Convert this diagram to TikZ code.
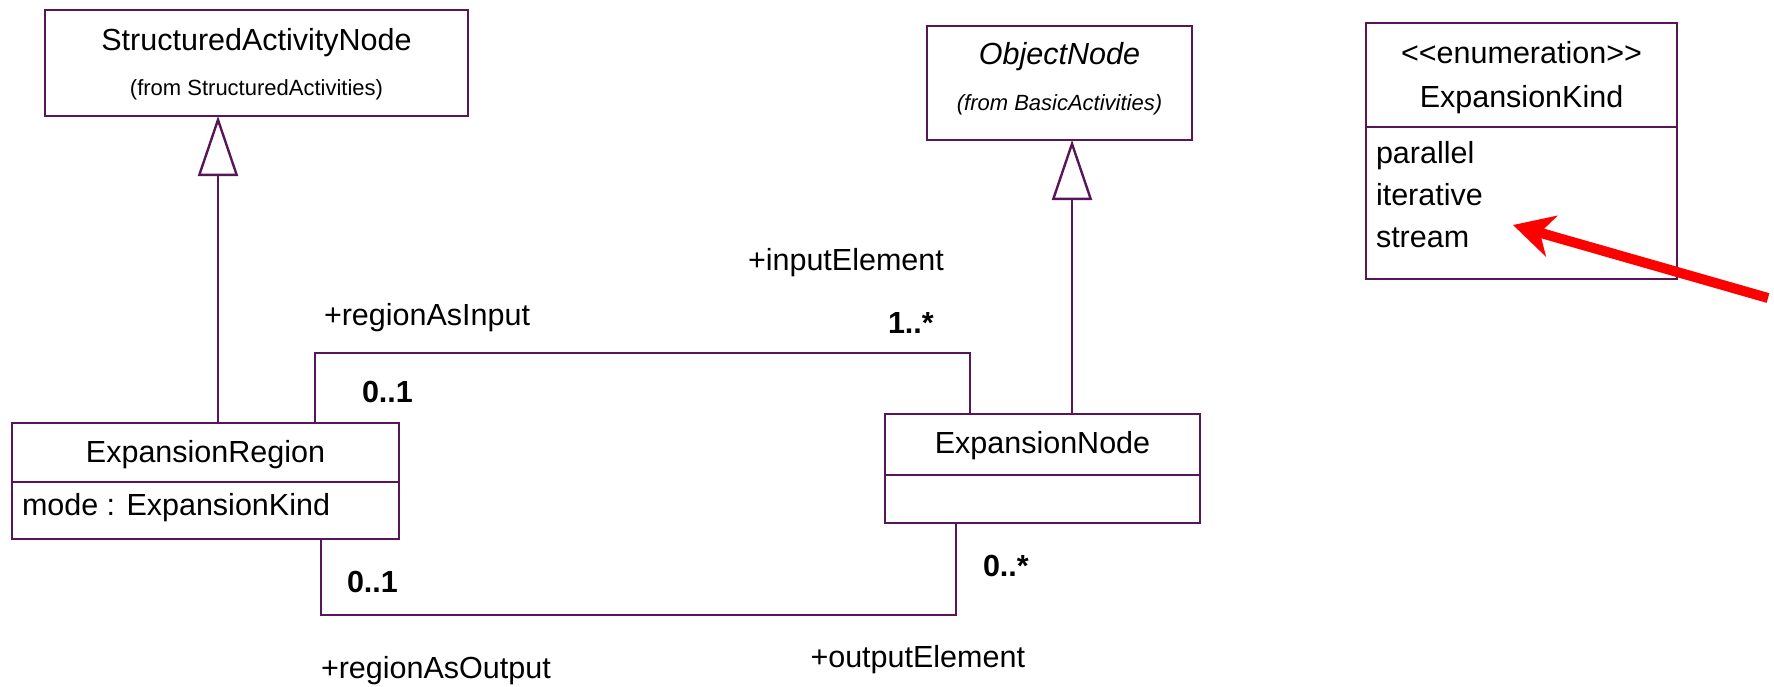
\documentclass[tikz,border=0pt]{standalone}
\usepackage{fontspec}
\setmainfont{Liberation Sans}
\usetikzlibrary{arrows.meta}
\definecolor{umlline}{RGB}{88,22,88}
\definecolor{marker}{RGB}{255,0,0}
\tikzset{
  box/.style={draw=umlline, line width=2.4pt, rectangle, inner sep=0pt, outer sep=0pt},
  ln/.style={draw=umlline, line width=2.4pt},
  gen/.style={ln, -{Triangle[open, length=60pt 0 0, width=40pt 0 0, fill=white]}},
  txt/.style={inner sep=0pt, outer sep=0pt, font=\fontsize{30.5}{36}\selectfont},
  mult/.style={txt, font=\fontsize{30.5}{36}\selectfont\bfseries},
  subtxt/.style={inner sep=0pt, outer sep=0pt, font=\fontsize{22}{26}\selectfont},
  pointer/.style={draw=marker, line width=10pt, -{Stealth[length=40pt 0 0, width=42pt 0 0, inset=12pt, fill=marker]}}
}
\begin{document}
\begin{tikzpicture}[x=1pt, y=-1pt]
\useasboundingbox (0,0) rectangle (1774,686);

% class boxes
\node[box, minimum width=423pt, minimum height=106pt] (san) at (256.5,63) {};
\node[box, minimum width=265pt, minimum height=114pt] (on) at (1059.5,83) {};
\node[box, minimum width=311pt, minimum height=256pt] (ek) at (1521.5,151) {};
\node[box, minimum width=387pt, minimum height=116pt] (er) at (205.5,481) {};
\node[box, minimum width=315pt, minimum height=109pt] (en) at (1042.5,468.5) {};

% compartment dividers
\draw[ln] ([yshift=-104pt]ek.north west) -- ([yshift=-104pt]ek.north east);
\draw[ln] ([yshift=-59pt]er.north west) -- ([yshift=-59pt]er.north east);
\draw[ln] ([yshift=-61pt]en.north west) -- ([yshift=-61pt]en.north east);

% class names and compartments
\node[txt, anchor=base] (sanName) at (256.5,50) {StructuredActivityNode};
\node[subtxt, anchor=base] (sanPkg) at (256.5,95) {(from StructuredActivities)};
\node[txt, anchor=base, font=\fontsize{30.5}{36}\selectfont\itshape] (onName) at (1059.5,64) {ObjectNode};
\node[subtxt, anchor=base, font=\fontsize{22}{26}\selectfont\itshape] (onPkg) at (1059.5,110) {(from BasicActivities)};
\node[txt, anchor=base] (ekStereo) at (1521.5,63) {<{}<enumeration>{}>};
\node[txt, anchor=base] (ekName) at (1521.5,107) {ExpansionKind};
\node[txt, anchor=base west] (ekParallel) at (1376,163) {parallel};
\node[txt, anchor=base west] (ekIterative) at (1376,205) {iterative};
\node[txt, anchor=base west] (ekStream) at (1376,247) {stream};
\node[txt, anchor=base] (erName) at (205.5,462) {ExpansionRegion};
\node[txt, anchor=base west] (erMode) at (22,515) {mode : ExpansionKind};
\node[txt, anchor=base] (enName) at (1042.5,453) {ExpansionNode};

% generalizations
\coordinate (g1) at (218,0);
\coordinate (g2) at (1072,0);
\draw[gen] (er.north -| g1) -- (san.south -| g1);
\draw[gen] (en.north -| g2) -- (on.south -| g2);

% association: regionAsInput / inputElement
\coordinate (ia) at (315,353);
\coordinate (ib) at (970,353);
\draw[ln] (er.north -| ia) -- (ia) -- (ib) -- (en.north -| ib);

% association: regionAsOutput / outputElement
\coordinate (oa) at (321,615);
\coordinate (ob) at (956,615);
\draw[ln] (er.south -| oa) -- (oa) -- (ob) -- (en.south -| ob);

% role names and multiplicities
\node[txt, anchor=base west] (rIn) at (324,325) {+regionAsInput};
\node[mult, anchor=base west] (mIn1) at (362,402) {0..1};
\node[txt, anchor=base west] (rInEl) at (748,270) {+inputElement};
\node[mult, anchor=base west] (mIn2) at (888,333) {1..*};
\node[mult, anchor=base west] (mOut1) at (347,592) {0..1};
\node[txt, anchor=base west] (rOut) at (321,678) {+regionAsOutput};
\node[mult, anchor=base west] (mOut2) at (983,576) {0..*};
\node[txt, anchor=base east] (rOutEl) at (1025,667) {+outputElement};

% highlight arrow
\coordinate (ptail) at (1768,298);
\coordinate (ptip) at (1513,225);
\draw[pointer] (ptail) -- (ptip);
\end{tikzpicture}
\end{document}
